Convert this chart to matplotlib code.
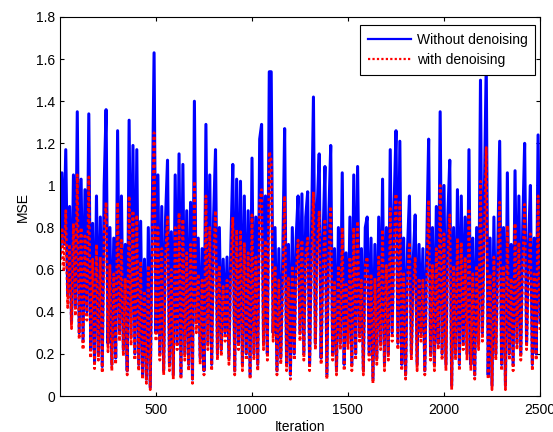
import numpy as np
import matplotlib
matplotlib.use("Agg")
import matplotlib.pyplot as plt
from matplotlib.ticker import FormatStrFormatter

plt.rcParams['font.family'] = ['Liberation Sans', 'DejaVu Sans']

# MSE per iteration, sampled roughly every 10 iterations
mse_without = [
    0.66, 1.06, 0.72, 1.17, 0.48, 0.90, 0.35, 1.05, 0.42, 1.35, 0.30, 1.03, 0.26, 0.98, 0.40, 1.34, 0.22, 0.82, 0.16, 0.95, 0.20, 0.85, 0.14, 1.00, 1.36,
    0.25, 0.80, 0.15, 0.75, 0.18, 1.26, 0.30, 0.95, 0.22, 0.72, 0.12, 1.31, 0.28, 1.19, 0.20, 1.17, 0.15, 0.83, 0.10, 0.65, 0.08, 0.80, 0.04, 0.82, 1.63,
    0.30, 1.05, 0.20, 0.90, 0.12, 0.85, 1.12, 0.15, 0.78, 0.10, 1.05, 0.25, 1.15, 0.10, 1.10, 0.20, 0.88, 0.15, 0.92, 0.08, 1.40, 0.35, 0.75, 0.18, 0.70,
    0.12, 1.29, 0.25, 1.05, 0.15, 0.85, 1.17, 0.20, 0.80, 0.22, 0.65, 0.30, 0.66, 0.18, 0.72, 1.10, 0.12, 1.03, 0.25, 1.02, 0.15, 0.95, 0.20, 0.88, 0.10,
    1.13, 0.20, 0.85, 0.15, 1.22, 1.29, 0.25, 0.95, 0.20, 1.54, 1.54, 0.30, 0.80, 0.12, 0.70, 0.18, 0.65, 1.27, 0.15, 0.72, 0.10, 0.80, 0.20, 0.75, 0.95,
    0.30, 0.96, 0.20, 0.85, 0.97, 0.15, 0.80, 1.42, 0.25, 0.90, 1.15, 0.18, 0.75, 1.09, 0.10, 0.85, 1.19, 0.20, 0.70, 0.12, 0.80, 0.25, 1.06, 0.15, 0.68,
    0.25, 0.85, 0.15, 1.05, 0.20, 1.09, 0.30, 0.70, 0.12, 0.80, 0.85, 0.20, 0.75, 0.08, 0.72, 0.18, 0.85, 0.25, 1.03, 0.15, 0.80, 0.20, 1.17, 0.30, 0.90,
    1.26, 0.25, 1.21, 0.15, 0.75, 0.10, 0.70, 0.95, 0.20, 0.65, 0.86, 0.15, 0.72, 0.30, 0.70, 0.12, 0.71, 1.22, 0.20, 0.80, 0.15, 0.90, 0.25, 1.35, 0.20,
    1.00, 0.15, 0.85, 1.12, 0.05, 0.80, 0.20, 0.98, 0.15, 0.95, 0.25, 0.85, 0.20, 1.17, 0.15, 0.75, 0.10, 0.80, 0.25, 1.50, 0.30, 0.95, 1.58, 0.10, 0.75,
    0.05, 0.85, 0.20, 0.70, 1.21, 0.15, 0.80, 0.05, 1.06, 0.20, 0.72, 0.15, 1.07, 0.25, 0.95, 0.20, 0.80, 1.20, 0.25, 0.70, 1.00, 0.15, 0.75, 0.20, 1.24, 0.35,
]

mse_with = [
    0.62, 0.80, 0.60, 0.88, 0.42, 0.72, 0.32, 0.82, 0.38, 1.05, 0.27, 0.80, 0.22, 0.76, 0.36, 1.04, 0.18, 0.65, 0.13, 0.72, 0.17, 0.66, 0.11, 0.77, 0.92,
    0.21, 0.62, 0.12, 0.58, 0.15, 0.92, 0.26, 0.74, 0.19, 0.56, 0.10, 0.95, 0.24, 0.88, 0.17, 0.86, 0.12, 0.64, 0.08, 0.50, 0.06, 0.62, 0.03, 0.64, 1.25,
    0.26, 0.80, 0.17, 0.70, 0.10, 0.66, 0.85, 0.12, 0.60, 0.08, 0.80, 0.22, 0.87, 0.08, 0.84, 0.17, 0.68, 0.12, 0.72, 0.06, 1.02, 0.30, 0.58, 0.15, 0.55,
    0.10, 0.95, 0.22, 0.80, 0.12, 0.66, 0.88, 0.17, 0.62, 0.19, 0.52, 0.26, 0.55, 0.15, 0.60, 0.85, 0.10, 0.79, 0.22, 0.78, 0.12, 0.73, 0.17, 0.68, 0.08,
    0.86, 0.17, 0.66, 0.12, 0.92, 0.98, 0.22, 0.74, 0.17, 1.16, 1.12, 0.26, 0.62, 0.10, 0.55, 0.15, 0.50, 0.95, 0.12, 0.56, 0.08, 0.62, 0.17, 0.58, 0.74,
    0.26, 0.74, 0.17, 0.66, 0.75, 0.12, 0.62, 0.97, 0.22, 0.70, 0.88, 0.15, 0.58, 0.84, 0.08, 0.66, 0.90, 0.17, 0.54, 0.10, 0.62, 0.22, 0.80, 0.12, 0.53,
    0.22, 0.66, 0.12, 0.80, 0.17, 0.83, 0.26, 0.55, 0.10, 0.62, 0.66, 0.17, 0.58, 0.06, 0.56, 0.15, 0.66, 0.22, 0.79, 0.12, 0.62, 0.17, 0.89, 0.26, 0.70,
    0.96, 0.22, 0.92, 0.12, 0.58, 0.08, 0.55, 0.73, 0.17, 0.50, 0.66, 0.12, 0.56, 0.26, 0.55, 0.10, 0.55, 0.93, 0.17, 0.62, 0.12, 0.70, 0.22, 1.00, 0.17,
    0.77, 0.12, 0.66, 0.86, 0.03, 0.62, 0.17, 0.75, 0.12, 0.73, 0.22, 0.66, 0.17, 0.89, 0.12, 0.58, 0.08, 0.62, 0.22, 1.02, 0.26, 0.74, 1.18, 0.08, 0.58,
    0.03, 0.66, 0.17, 0.55, 0.92, 0.12, 0.62, 0.03, 0.81, 0.17, 0.56, 0.12, 0.82, 0.22, 0.73, 0.17, 0.62, 0.91, 0.22, 0.55, 0.77, 0.12, 0.58, 0.17, 0.95, 0.30,
]

iters = np.linspace(1, 2500, len(mse_without))

fig = plt.figure(figsize=(5.53, 4.32), dpi=100)
ax = fig.add_axes([60/553, 36/432, 480/553, 379/432])

ax.plot(iters, mse_without, color='blue', lw=2.2, label='Without denoising')
ax.plot(iters, mse_with, color='red', lw=2.0, linestyle=(0, (1, 1)), label='with denoising')

ax.set_xlim(1, 2500)
ax.set_ylim(0, 1.8)
ax.set_xticks([500, 1000, 1500, 2000, 2500])
ax.set_yticks(np.arange(0, 1.81, 0.2))
ax.yaxis.set_major_formatter(FormatStrFormatter('%g'))
ax.tick_params(direction='in', top=True, right=True, length=3, labelsize=10)
ax.tick_params(axis='x', pad=5)

ax.set_xlabel('Iteration', fontsize=10, labelpad=2)
ax.set_ylabel('MSE', fontsize=10)

# legend box placed to match the original position
leg = ax.legend(loc='upper right', bbox_to_anchor=(535/553, 1 - 25/432),
                bbox_transform=fig.transFigure, borderaxespad=0,
                fontsize=10, fancybox=False, framealpha=1, edgecolor='black',
                handlelength=3.1, handletextpad=0.4, borderpad=0.55,
                labelspacing=0.45)
leg.get_frame().set_linewidth(0.8)
for line in leg.get_lines():
    line.set_linewidth(1.6)

plt.savefig('out.png', dpi=100)
